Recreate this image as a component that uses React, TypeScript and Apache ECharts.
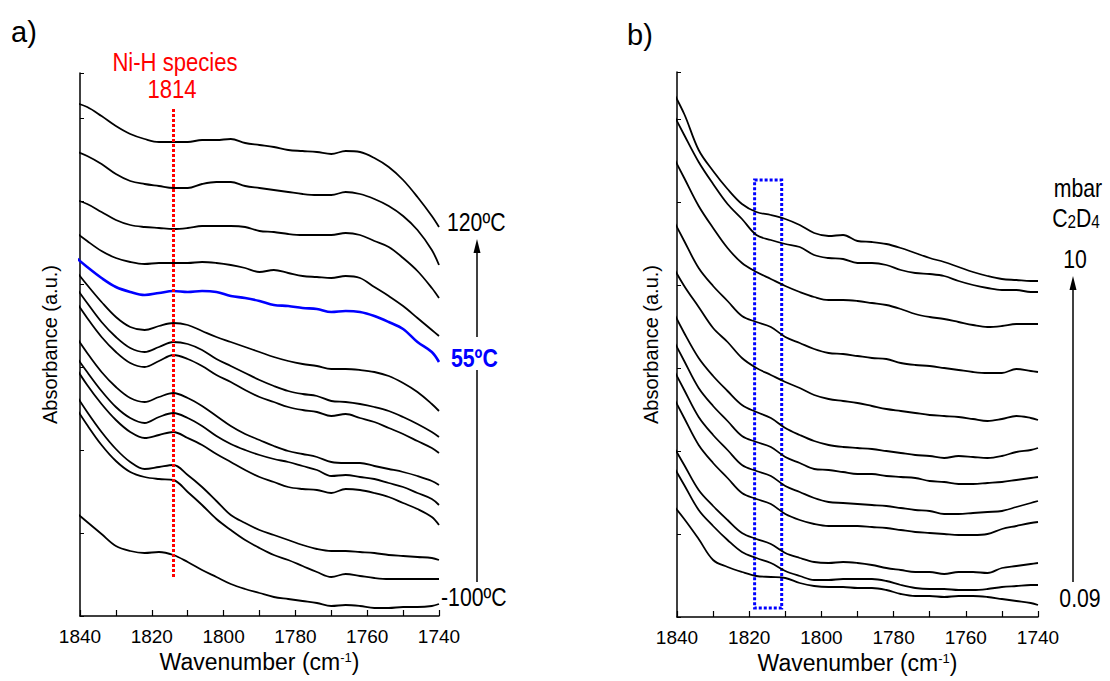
import React, { useEffect, useRef } from "react";
import * as echarts from "echarts";

// Wavenumbers (cm-1) at which each spectrum is sampled
const WAVENUMBERS = [1842, 1838, 1834, 1830, 1826, 1822, 1818, 1814, 1810, 1806, 1802, 1798, 1794, 1790, 1786, 1782, 1778, 1774, 1770, 1766, 1762, 1758, 1754, 1750, 1746, 1742, 1740];

// Panel a) – temperature series (stacked, a.u.), top (120ºC) to bottom (-100ºC)
const A1 = [514, 509, 500, 490, 482, 477, 474, 474, 474, 476, 476, 477, 473, 471, 469, 466, 465, 464, 462, 465, 464, 458, 449, 436, 419, 400, 389];
const A2 = [466, 460, 452, 442, 435, 432, 430, 428, 428, 432, 434, 434, 430, 428, 426, 424, 422, 421, 421, 424, 422, 417, 410, 400, 386, 366, 351];
const A3 = [417, 412, 404, 396, 391, 389, 388, 387, 388, 390, 390, 390, 389, 385, 384, 382, 381, 381, 381, 383, 381, 375, 369, 358, 345, 328, 318];
const A4 = [386, 375, 365, 358, 354, 352, 353, 353, 353, 354, 353, 351, 348, 344, 346, 343, 340, 339, 338, 340, 338, 329, 320, 310, 298, 286, 280];
const A55 = [361, 349, 338, 329, 324, 321, 323, 325, 324, 325, 324, 320, 318, 315, 311, 310, 308, 307, 304, 305, 304, 300, 294, 287, 274, 264, 254];
const A6 = [349, 331, 314, 299, 289, 286, 290, 293, 291, 285, 279, 274, 269, 264, 259, 255, 252, 250, 247, 247, 246, 244, 240, 233, 224, 212, 205];
const A7 = [333, 313, 294, 279, 268, 264, 269, 274, 272, 266, 257, 250, 243, 236, 230, 225, 222, 220, 215, 214, 212, 209, 205, 199, 192, 184, 179];
const A8 = [319, 298, 279, 264, 253, 249, 255, 261, 257, 250, 241, 234, 226, 219, 214, 209, 206, 204, 200, 202, 198, 194, 188, 182, 175, 168, 163];
const A9 = [284, 263, 244, 229, 218, 214, 219, 223, 218, 210, 200, 190, 182, 176, 170, 165, 162, 159, 154, 153, 153, 150, 147, 144, 140, 135, 131];
const A10 = [264, 244, 225, 209, 198, 193, 199, 203, 198, 190, 180, 172, 166, 161, 157, 154, 150, 146, 140, 141, 139, 137, 133, 129, 123, 117, 111];
const A11 = [253, 231, 212, 196, 184, 178, 181, 184, 178, 171, 162, 154, 146, 139, 134, 129, 127, 126, 123, 127, 126, 123, 119, 113, 107, 99, 91];
const A12 = [226, 204, 184, 167, 154, 147, 149, 151, 141, 129, 115, 101, 93, 86, 81, 76, 71, 67, 65, 65, 64, 63, 61, 60, 59, 58, 56];
const A13 = [213, 191, 171, 155, 144, 139, 137, 136, 124, 111, 97, 86, 76, 68, 61, 56, 50, 44, 39, 42, 40, 38, 37, 37, 37, 37, 37];
const A14 = [106, 94, 82, 70, 65, 63, 64, 61, 54, 46, 39, 32, 27, 23, 19, 17, 15, 13, 10, 11, 10, 8, 8, 9, 9, 10, 12];
const PANEL_A_BLACK = [A1, A2, A3, A4, A6, A7, A8, A9, A10, A11, A12, A13, A14];

// Panel b) – C2D4 pressure series (stacked, a.u.), top (10 mbar) to bottom (0.09 mbar)
const B1 = [531, 503, 467, 446, 428, 413, 405, 402, 398, 392, 384, 381, 382, 376, 375, 373, 369, 364, 359, 355, 350, 345, 341, 338, 337, 336, 336];
const B2 = [510, 482, 455, 433, 413, 398, 382, 377, 373, 370, 362, 359, 358, 354, 354, 352, 347, 344, 343, 341, 336, 332, 329, 327, 327, 325, 325];
const B3 = [467, 439, 411, 389, 369, 354, 345, 338, 331, 325, 320, 317, 317, 316, 314, 312, 308, 303, 300, 298, 295, 292, 290, 291, 293, 293, 293];
const B4 = [404, 376, 349, 331, 316, 301, 295, 290, 280, 274, 268, 264, 263, 261, 259, 258, 254, 252, 251, 249, 247, 245, 244, 244, 248, 246, 245];
const B5 = [356, 331, 310, 289, 275, 259, 249, 242, 235, 229, 222, 218, 216, 214, 211, 208, 206, 204, 202, 201, 200, 198, 196, 198, 201, 199, 197];
const B6 = [312, 284, 259, 241, 226, 212, 205, 199, 189, 182, 176, 172, 170, 169, 168, 166, 164, 162, 161, 159, 161, 160, 159, 161, 165, 167, 169];
const B7 = [284, 256, 229, 211, 196, 181, 175, 170, 160, 154, 148, 147, 145, 143, 143, 141, 140, 139, 136, 135, 133, 133, 134, 135, 137, 139, 140];
const B8 = [255, 227, 200, 182, 167, 152, 146, 141, 131, 125, 119, 115, 114, 113, 112, 111, 109, 107, 106, 103, 103, 104, 105, 106, 110, 114, 116];
const B9 = [227, 199, 172, 154, 139, 124, 118, 113, 103, 97, 93, 91, 91, 91, 90, 89, 87, 85, 84, 83, 82, 82, 83, 88, 91, 94, 95];
const B10 = [177, 152, 127, 111, 97, 84, 78, 73, 64, 59, 55, 54, 55, 54, 52, 49, 47, 45, 45, 43, 45, 45, 44, 49, 51, 53, 54];
const B11 = [157, 132, 107, 91, 77, 65, 59, 54, 46, 41, 37, 37, 38, 38, 38, 36, 32, 29, 28, 28, 27, 27, 28, 30, 31, 32, 32];
const B12 = [116, 98, 78, 57, 50, 45, 41, 40, 39, 34, 31, 30, 30, 29, 29, 27, 23, 21, 21, 20, 21, 21, 20, 18, 16, 14, 12];
const PANEL_B = [B1, B2, B3, B4, B5, B6, B7, B8, B9, B10, B11, B12];

const X_MIN = 1740;
const X_MAX = 1840;
const NIH_BAND = 1814;
const NIH_RANGE = [39, 509];
const BOX_WAVENUMBERS = [1818.5, 1811];
const BOX_RANGE = [9, 437];

const SANS = '"Liberation Sans", Arial, sans-serif';
const SQUEEZE = 0.85;

function xAxis(gridIndex: number) {
  return {
    gridIndex,
    type: "value",
    min: X_MIN,
    max: X_MAX,
    inverse: true,
    interval: 10,
    axisLine: { lineStyle: { color: "#000", width: 1.5 } },
    axisTick: { inside: true, length: 6, lineStyle: { color: "#000", width: 1.2 } },
    axisLabel: {
      formatter: (v: number) => (v % 20 === 0 ? String(v) : ""),
      color: "#000",
      fontFamily: SANS,
      fontSize: 19,
      margin: 11,
    },
    splitLine: { show: false },
    name: "{t|Wavenumber (cm}{s|-1}{t|)}",
    nameLocation: "middle",
    nameGap: 33,
    nameTextStyle: {
      rich: {
        t: { fontFamily: SANS, fontSize: 23, color: "#000" },
        s: { fontFamily: SANS, fontSize: 13, color: "#000", padding: [0, 0, 10, 0] },
      },
    },
  };
}

function yAxis(gridIndex: number, max: number, gap: number) {
  return {
    gridIndex,
    type: "value",
    min: 0,
    max,
    interval: 83,
    axisLine: { show: true, lineStyle: { color: "#000", width: 1.5 } },
    axisTick: { show: true, inside: true, length: 4, lineStyle: { color: "#000", width: 1 } },
    axisLabel: { show: false },
    splitLine: { show: false },
    name: "Absorbance (a.u.)",
    nameLocation: "middle",
    nameGap: gap,
    nameRotate: 90,
    nameTextStyle: { fontFamily: SANS, fontSize: 20, color: "#000" },
  };
}

function lineSeries(values: number[], idx: number, color: string, width: number, extra: any = {}) {
  return {
    type: "line",
    xAxisIndex: idx,
    yAxisIndex: idx,
    data: WAVENUMBERS.map((w, i) => [w, values[i]]),
    smooth: 0.35,
    symbol: "none",
    clip: false,
    silent: true,
    lineStyle: { color, width },
    z: 3,
    ...extra,
  };
}

function text(t: string, x: number, y: number, opts: any = {}) {
  return {
    type: "text",
    x,
    y,
    scaleX: opts.scaleX ?? SQUEEZE,
    silent: true,
    style: {
      text: t,
      fill: opts.fill || "#000",
      font: opts.font || `25px ${SANS}`,
      textAlign: opts.align || "left",
      textVerticalAlign: "middle",
    },
  };
}

export default function App() {
  const ref = useRef<HTMLDivElement>(null);

  useEffect(() => {
    if (!ref.current) return;
    const chart = echarts.init(ref.current, undefined, { renderer: "svg" });

    const series: any[] = [];
    PANEL_A_BLACK.forEach((vals, i) => {
      const extra =
        i === 0
          ? {
              markLine: {
                silent: true,
                symbol: ["none", "none"],
                label: { show: false },
                lineStyle: { color: "#ff0000", type: [3, 2], width: 3 },
                data: [[{ coord: [NIH_BAND, NIH_RANGE[0]] }, { coord: [NIH_BAND, NIH_RANGE[1]] }]],
              },
            }
          : {};
      series.push(lineSeries(vals, 0, "#000", 1.8, extra));
    });
    series.push(lineSeries(A55, 0, "#0000ff", 2.6, { z: 4 }));
    PANEL_B.forEach((vals, i) => {
      const extra =
        i === 0
          ? {
              markArea: {
                silent: true,
                itemStyle: { color: "rgba(0,0,0,0)", borderColor: "#0000ff", borderWidth: 3, borderType: [3, 2] },
                data: [[{ coord: [BOX_WAVENUMBERS[0], BOX_RANGE[1]] }, { coord: [BOX_WAVENUMBERS[1], BOX_RANGE[0]] }]],
              },
            }
          : {};
      series.push(lineSeries(vals, 1, "#000", 1.8, extra));
    });

    const option: any = {
      animation: false,
      backgroundColor: "#fff",
      grid: [
        { left: 80, top: 73, width: 359, height: 543 },
        { left: 677, top: 72, width: 361, height: 545 },
      ],
      xAxis: [xAxis(0), xAxis(1)],
      yAxis: [yAxis(0, 543, 20), yAxis(1, 545, 16)],
      series,
      graphic: [
        text("a)", 11, 32, { font: `29px ${SANS}`, scaleX: 1 }),
        text("b)", 627, 35, { font: `29px ${SANS}`, scaleX: 1 }),
        text("Ni-H species", 175, 62, { fill: "#ff0000", align: "center", font: `26px ${SANS}` }),
        text("1814", 172, 89, { fill: "#ff0000", align: "center", font: `26px ${SANS}` }),
        text("120ºC", 447, 222),
        text("55ºC", 451, 358, { fill: "#0000ff", font: `bold 25px ${SANS}` }),
        text("-100ºC", 441, 597),
        text("mbar", 1078, 188, { align: "center" }),
        {
          type: "text",
          x: 1076,
          y: 222,
          scaleX: SQUEEZE,
          silent: true,
          style: {
            text: "{b|C}{s|2}{b|D}{s|4}",
            textAlign: "center",
            textVerticalAlign: "middle",
            rich: {
              b: { font: `25px ${SANS}`, fill: "#000", padding: [0, 0, 8, 0] },
              s: { font: `18px ${SANS}`, fill: "#000" },
            },
          },
        },
        text("10", 1075, 259, { align: "center" }),
        text("0.09", 1080, 598, { align: "center" }),
        { type: "line", silent: true, shape: { x1: 477, y1: 337, x2: 477, y2: 250 }, style: { stroke: "#000", lineWidth: 1.5 } },
        { type: "polygon", silent: true, shape: { points: [[477, 239], [473.5, 253], [480.5, 253]] }, style: { fill: "#000" } },
        { type: "line", silent: true, shape: { x1: 477, y1: 370, x2: 477, y2: 582 }, style: { stroke: "#000", lineWidth: 1.5 } },
        { type: "line", silent: true, shape: { x1: 1073, y1: 582, x2: 1073, y2: 288 }, style: { stroke: "#000", lineWidth: 1.5 } },
        { type: "polygon", silent: true, shape: { points: [[1073, 276], [1069.5, 290], [1076.5, 290]] }, style: { fill: "#000" } },
      ],
    };
    chart.setOption(option);
    return () => chart.dispose();
  }, []);

  return (
    <div
      ref={ref}
      style={{ position: "fixed", left: 0, top: 0, width: 1110, height: 681, background: "#fff" }}
    />
  );
}
